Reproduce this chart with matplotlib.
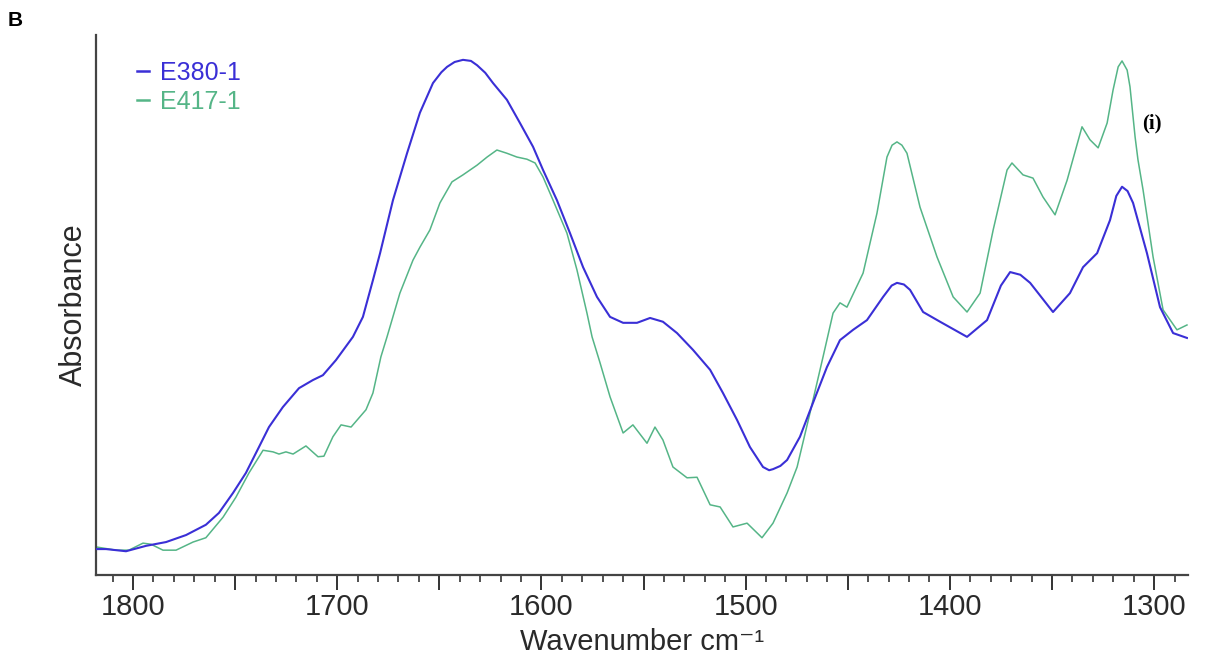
import matplotlib
matplotlib.use("Agg")
import matplotlib.pyplot as plt
from matplotlib.ticker import MultipleLocator, FuncFormatter

# FTIR absorbance spectra, amide I / II region
wn_e380 = [1818.1, 1813.2, 1803.4, 1793.6, 1783.8, 1774.0, 1764.3, 1757.9, 1751.0, 1744.7,
           1738.3, 1733.4, 1726.6, 1718.7, 1711.9, 1707.0, 1700.6, 1692.3, 1687.4, 1682.5,
           1679.0, 1672.7, 1665.8, 1659.5, 1653.1, 1649.0, 1646.2, 1642.5, 1638.4, 1634.5,
           1631.5, 1627.5, 1623.7, 1616.9,
           1610.5, 1604.1, 1599.2, 1592.4, 1586.0, 1579.6, 1572.8, 1566.4, 1560.0, 1553.2,
           1546.8, 1540.5, 1533.6, 1525.8, 1517.4, 1511.1, 1504.2, 1497.9, 1491.5, 1488.5,
           1486.6, 1483.0,
           1479.7, 1473.4, 1467.0, 1460.2, 1453.8, 1447.4, 1440.6, 1432.7, 1428.5, 1425.9,
           1422.5, 1419.5,
           1413.1, 1404.8, 1391.6, 1381.8, 1375.0, 1370.5, 1365.5, 1360.7, 1349.5, 1341.2,
           1334.8, 1327.9, 1321.6, 1318.5, 1315.7, 1313.0, 1310.3, 1303.5, 1297.1, 1290.7,
           1283.9]
abs_e380 = [0.048, 0.048, 0.044, 0.054, 0.061, 0.074, 0.093, 0.115, 0.152, 0.189,
            0.237, 0.274, 0.311, 0.346, 0.361, 0.370, 0.398, 0.441, 0.478, 0.546,
            0.596, 0.694, 0.781, 0.856, 0.911, 0.931, 0.941, 0.950, 0.954, 0.952,
            0.944, 0.930, 0.911, 0.880,
            0.837, 0.793, 0.750, 0.694, 0.633, 0.570, 0.515, 0.478, 0.467, 0.467,
            0.476, 0.469, 0.448, 0.417, 0.380, 0.337, 0.287, 0.237, 0.200, 0.194,
            0.196, 0.202,
            0.213, 0.256, 0.319, 0.385, 0.435, 0.454, 0.472, 0.515, 0.536, 0.541,
            0.538, 0.528,
            0.487, 0.469, 0.441, 0.472, 0.536, 0.561, 0.556, 0.541, 0.487, 0.522,
            0.570, 0.596, 0.657, 0.702, 0.719, 0.711, 0.689, 0.596, 0.496, 0.448,
            0.439]

wn_e417 = [1818.1, 1808.3, 1802.0, 1795.1, 1791.2, 1785.3, 1778.9, 1770.6, 1764.3, 1755.9,
           1749.6, 1743.2, 1736.3, 1731.4, 1728.5, 1725.1, 1721.6, 1715.3, 1709.4, 1706.5,
           1702.1, 1698.1, 1693.2, 1685.9, 1682.5, 1678.6, 1675.6, 1669.3, 1662.9, 1659.5,
           1654.6, 1649.7, 1643.8, 1638.4, 1631.5, 1626.6, 1621.8, 1616.9, 1612.0, 1607.1,
           1603.1, 1599.2, 1594.3, 1587.5, 1582.6, 1577.7, 1575.2, 1571.3, 1566.4, 1560.0,
           1555.2, 1548.3, 1544.4, 1540.5, 1535.6, 1528.7, 1523.8, 1517.4, 1512.5, 1506.2,
           1499.3, 1492.0, 1486.6, 1479.7, 1474.8, 1468.5, 1462.1, 1457.2, 1453.8, 1450.4,
           1442.5, 1435.7, 1430.8, 1428.3, 1425.9, 1423.5, 1421.0, 1414.6, 1406.3, 1398.4,
           1391.6, 1385.2,
           1378.8, 1372.0, 1369.6, 1364.2, 1359.3, 1354.4, 1348.5, 1342.6, 1335.3, 1331.4,
           1327.4, 1323.0, 1320.1, 1317.6, 1315.7, 1313.2, 1311.8, 1309.3, 1307.9, 1305.4,
           1300.5, 1295.6, 1288.8, 1283.9]
abs_e417 = [0.052, 0.046, 0.046, 0.059, 0.057, 0.046, 0.046, 0.061, 0.069, 0.107,
            0.144, 0.189, 0.231, 0.228, 0.224, 0.228, 0.224, 0.239, 0.219, 0.220,
            0.256, 0.278, 0.274, 0.306, 0.337, 0.404, 0.441, 0.522, 0.583, 0.607,
            0.639, 0.689, 0.728, 0.741, 0.759, 0.774, 0.787, 0.781, 0.774, 0.770,
            0.763, 0.737, 0.694, 0.633, 0.565, 0.485, 0.441, 0.393, 0.330, 0.263,
            0.278, 0.244, 0.274, 0.250, 0.200, 0.180, 0.181, 0.130, 0.126, 0.089,
            0.096, 0.069, 0.096, 0.152, 0.200, 0.300, 0.404, 0.485, 0.504, 0.496,
            0.559, 0.670, 0.774, 0.796, 0.802, 0.796, 0.781, 0.681, 0.589, 0.515,
            0.487, 0.522,
            0.639, 0.750, 0.763, 0.741, 0.735, 0.700, 0.667, 0.731, 0.830, 0.806,
            0.791, 0.837, 0.898, 0.941, 0.952, 0.935, 0.904, 0.811, 0.769, 0.713,
            0.589, 0.491, 0.454, 0.463]

blue = "#3a2fd6"
green = "#55b587"
ink = "#2a2a2a"

plt.rcParams["font.family"] = ["Liberation Sans", "DejaVu Sans"]

fig = plt.figure(figsize=(12.25, 6.6), dpi=100)
ax = fig.add_axes([96 / 1225, 85 / 660, 1092 / 1225, 540 / 660])

ax.plot(wn_e380, abs_e380, color=blue, lw=1.5, label="E380-1", zorder=3,
        solid_joinstyle="round")
ax.plot(wn_e417, abs_e417, color=green, lw=1.1, label="E417-1", zorder=2,
        solid_joinstyle="round")

ax.set_xlim(1818.1, 1283.4)
ax.set_ylim(0, 1)

for side in ("top", "right"):
    ax.spines[side].set_visible(False)
for side in ("left", "bottom"):
    ax.spines[side].set_color("#444444")
    ax.spines[side].set_linewidth(1.6)

ax.set_yticks([])
ax.xaxis.set_major_locator(MultipleLocator(50))
ax.xaxis.set_minor_locator(MultipleLocator(10))
ax.xaxis.set_major_formatter(FuncFormatter(lambda v, p: f"{v:.0f}" if v % 100 == 0 else ""))
ax.tick_params(axis="x", which="major", length=11, width=1.4, color="#333333",
               labelsize=21, labelcolor=ink, pad=2)
ax.tick_params(axis="x", which="minor", length=5, width=1.2, color="#333333")

ax.set_xlabel("Wavenumber cm\u207b\u00b9", fontsize=21, color=ink, labelpad=5)
ax.set_ylabel("Absorbance", fontsize=22, color=ink, labelpad=5)

leg = ax.legend(loc="upper left", bbox_to_anchor=(0.028, 0.97), frameon=False,
                fontsize=18, handlelength=0.5, handletextpad=0.45, labelspacing=0.2,
                labelcolor="linecolor", borderaxespad=0)
for h in leg.get_lines():
    h.set_linewidth(1.8)

fig.text(8 / 1225, 1 - 21 / 660, "B", fontsize=15, fontweight="bold", va="center", ha="left")
fig.text(1152 / 1225, 1 - 123 / 660, "(i)", fontsize=15, fontweight="bold",
         family="Liberation Serif", va="center", ha="center")

fig.savefig("out.png", dpi=100)
